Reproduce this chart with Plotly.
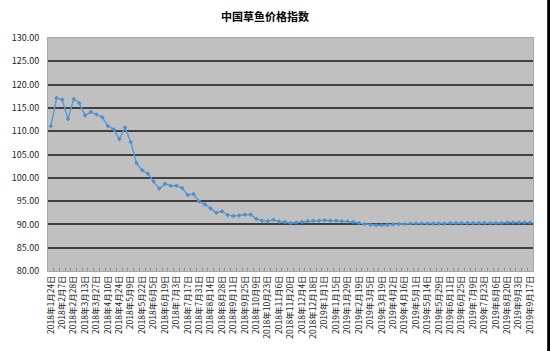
import plotly.graph_objects as go

title_text = "中国草鱼价格指数"

dates = [
    "2018年1月24日", "2018年1月31日", "2018年2月7日", "2018年2月14日", "2018年2月28日",
    "2018年3月6日", "2018年3月13日", "2018年3月20日", "2018年3月27日", "2018年4月3日",
    "2018年4月10日", "2018年4月17日", "2018年4月24日", "2018年5月2日", "2018年5月9日",
    "2018年5月15日", "2018年5月22日", "2018年5月29日", "2018年6月5日", "2018年6月12日",
    "2018年6月19日", "2018年6月26日", "2018年7月3日", "2018年7月10日", "2018年7月17日",
    "2018年7月24日", "2018年7月31日", "2018年8月7日", "2018年8月14日", "2018年8月21日",
    "2018年8月28日", "2018年9月4日", "2018年9月11日", "2018年9月18日", "2018年9月25日",
    "2018年10月2日", "2018年10月9日", "2018年10月16日", "2018年10月23日", "2018年10月30日",
    "2018年11月6日", "2018年11月13日", "2018年11月20日", "2018年11月27日", "2018年12月4日",
    "2018年12月11日", "2018年12月18日", "2018年12月25日", "2019年1月1日", "2019年1月8日",
    "2019年1月15日", "2019年1月22日", "2019年1月29日", "2019年2月12日", "2019年2月19日",
    "2019年2月26日", "2019年3月5日", "2019年3月12日", "2019年3月19日", "2019年3月26日",
    "2019年4月2日", "2019年4月9日", "2019年4月16日", "2019年4月23日", "2019年5月1日",
    "2019年5月7日", "2019年5月14日", "2019年5月21日", "2019年5月29日", "2019年6月4日",
    "2019年6月11日", "2019年6月18日", "2019年6月25日", "2019年7月2日", "2019年7月9日",
    "2019年7月16日", "2019年7月23日", "2019年7月30日", "2019年8月6日", "2019年8月13日",
    "2019年8月20日", "2019年8月27日", "2019年9月3日", "2019年9月10日", "2019年9月17日",
]

index_values = [
    111.1, 117.1, 116.8, 112.6, 116.9, 116.0, 113.4, 114.1, 113.6, 113.0,
    111.1, 110.4, 108.3, 110.8, 107.7, 103.2, 101.6, 100.9, 99.2, 97.7,
    98.7, 98.3, 98.3, 97.8, 96.3, 96.5, 94.9, 94.3, 93.4, 92.5,
    92.8, 92.0, 91.8, 91.9, 92.1, 92.1, 91.2, 90.8, 90.7, 91.0,
    90.6, 90.5, 90.3, 90.4, 90.5, 90.7, 90.8, 90.8, 90.9, 90.8,
    90.8, 90.7, 90.6, 90.5, 90.3, 90.1, 89.9, 89.8, 89.8, 89.9,
    90.0, 90.1, 90.1, 90.2, 90.2, 90.2, 90.2, 90.2, 90.2, 90.2,
    90.3, 90.3, 90.3, 90.3, 90.3, 90.3, 90.3, 90.3, 90.3, 90.3,
    90.4, 90.4, 90.4, 90.4, 90.4,
]

y_ticks = [80, 85, 90, 95, 100, 105, 110, 115, 120, 125, 130]

tick_text = [d if i % 2 == 0 else "" for i, d in enumerate(dates)]

FONT = "Noto Sans CJK SC"

fig = go.Figure()
fig.add_trace(go.Scatter(
    x=dates, y=index_values, mode="lines+markers",
    line=dict(color="#5b9bd5", width=1.5),
    marker=dict(color="#4f8fcc", size=3.5, symbol="diamond"),
    showlegend=False,
))

fig.update_layout(
    width=550, height=351,
    margin=dict(l=37, r=17, t=38, b=74),
    paper_bgcolor="white",
    plot_bgcolor="#c0c0c0",
    title=dict(text="<b>" + title_text + "</b>", x=265 / 550, xanchor="center",
               y=1 - 17.5 / 351, yanchor="middle",
               font=dict(family=FONT, size=11, color="black")),
    xaxis=dict(
        type="category", categoryorder="array", categoryarray=dates,
        tickmode="array", tickvals=dates, ticktext=tick_text,
        tickson="boundaries", ticks="inside", ticklen=3, tickcolor="#909090",
        tickangle=-90, tickfont=dict(family=FONT, size=8.5, color="#222"),
        showgrid=False, showline=True, linecolor="#a8a8a8", linewidth=1, mirror=True,
        range=[-0.5, len(dates) - 0.5],
    ),
    yaxis=dict(
        range=[80, 130], tickvals=y_ticks, tickformat=".2f",
        tickfont=dict(family=FONT, size=9, color="#222"),
        showgrid=True, gridcolor="#404040", gridwidth=1.5,
        showline=True, linecolor="#a8a8a8", linewidth=1, mirror=True,
        ticks="", ticklabelstandoff=6, zeroline=False,
    ),
    shapes=[dict(type="rect", xref="paper", yref="paper",
                 x0=(547.5 - 37) / 496, x1=(551 - 37) / 496, y0=-1, y1=2,
                 fillcolor="black", line=dict(width=0), layer="above")],
)

fig.write_html("out.html")
